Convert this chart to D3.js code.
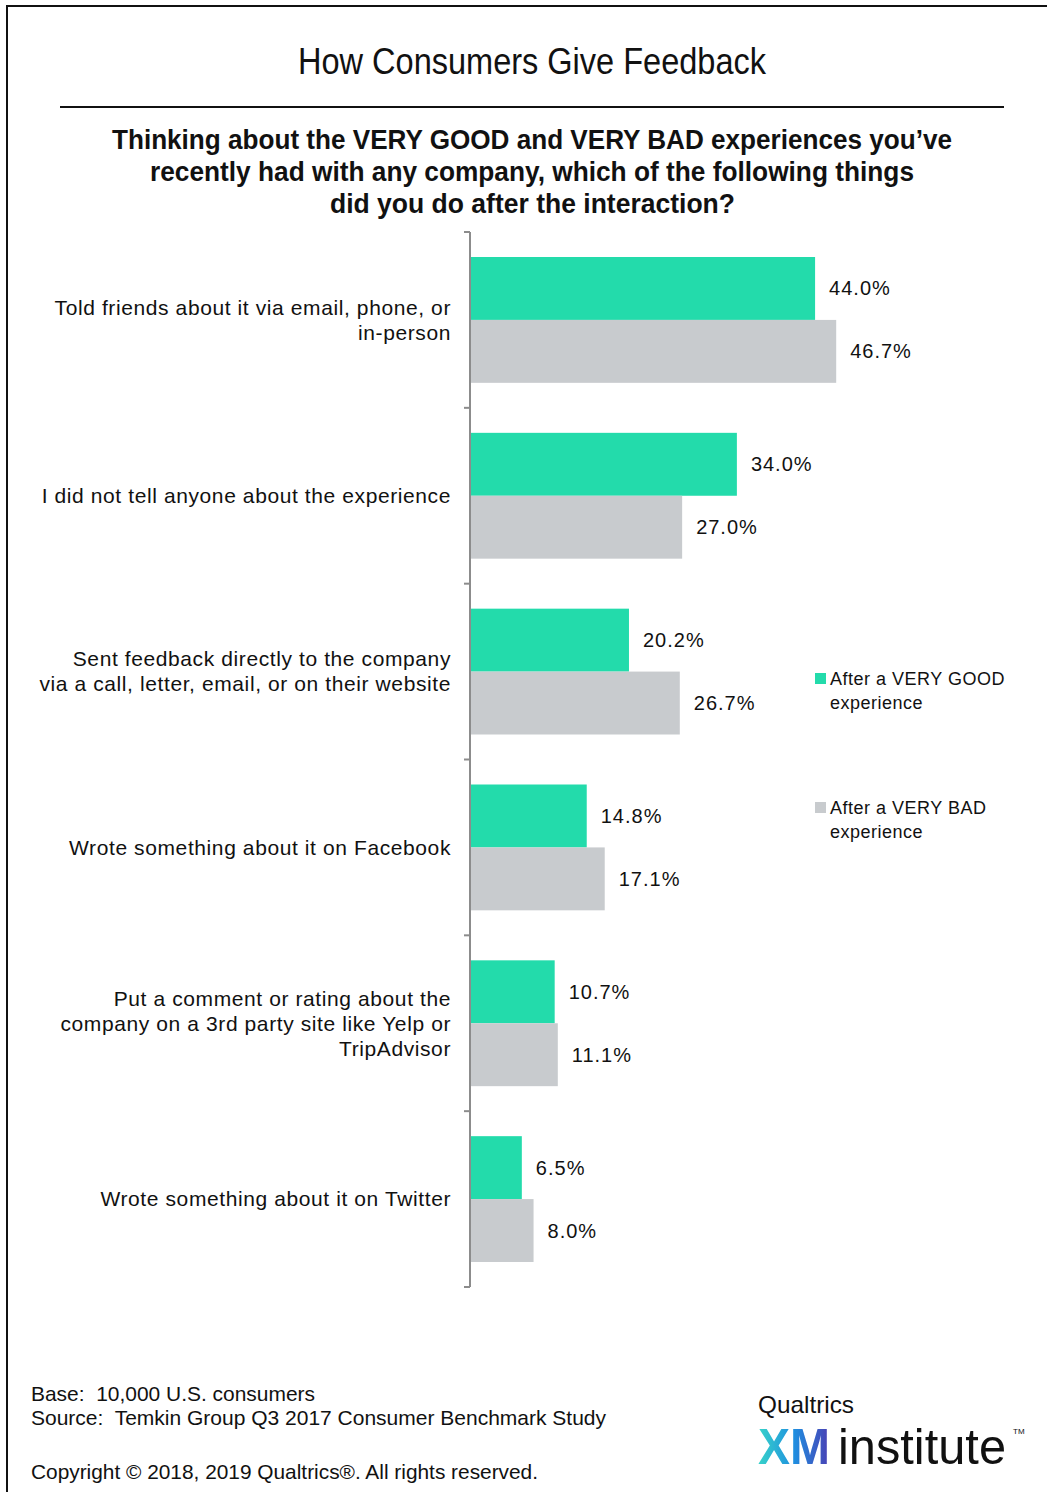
<!DOCTYPE html>
<html>
<head>
<meta charset="utf-8">
<script src="https://cdn.jsdelivr.net/npm/d3@7"></script>
<style>
  body { margin: 0; background: #fff; }
  svg { display: block; }
</style>
</head>
<body>
<div id="chart"></div>
<script>
// data
const categories = [
  "Told friends about it via email, phone, or in-person",
  "I did not tell anyone about the experience",
  "Sent feedback directly to the company via a call, letter, email, or on their website",
  "Wrote something about it on Facebook",
  "Put a comment or rating about the company on a 3rd party site like Yelp or TripAdvisor",
  "Wrote something about it on Twitter"
];
const categoryLines = [
  ["Told friends about it via email, phone, or", "in-person"],
  ["I did not tell anyone about the experience"],
  ["Sent feedback directly to the company", "via a call, letter, email, or on their website"],
  ["Wrote something about it on Facebook"],
  ["Put a comment or rating about the", "company on a 3rd party site like Yelp or", "TripAdvisor"],
  ["Wrote something about it on Twitter"]
];
const seriesNames = ["After a VERY GOOD experience", "After a VERY BAD experience"];
const legendLines = [["After a VERY GOOD", "experience"], ["After a VERY BAD", "experience"]];
const goodValues = [44.0, 34.0, 20.2, 14.8, 10.7, 6.5];
const badValues = [46.7, 27.0, 26.7, 17.1, 11.1, 8.0];
const colors = ["#23dbab", "#c8cbce"];

const width = 1047, height = 1492;
const labelFont = "'Liberation Sans', Arial, sans-serif";

const svg = d3.select("#chart").append("svg")
  .attr("width", width)
  .attr("height", height);

// condensed looking text: squeeze regular glyphs to the measured width
function narrowText(sel, t, len) {
  sel.text(t)
    .attr("textLength", len)
    .attr("lengthAdjust", "spacingAndGlyphs");
  return sel;
}

// frame
svg.append("path")
  .attr("d", `M7,${height} L7,6 L${width},6`)
  .attr("fill", "none")
  .attr("stroke", "#111")
  .attr("stroke-width", 2);

// title
narrowText(svg.append("text")
  .attr("x", 298).attr("y", 74)
  .style("font-family", labelFont)
  .style("font-size", "36px")
  .attr("fill", "#111"), "How Consumers Give Feedback", 468);

svg.append("line")
  .attr("x1", 60).attr("x2", 1004)
  .attr("y1", 107).attr("y2", 107)
  .attr("stroke", "#111").attr("stroke-width", 2);

const subtitle = [
  "Thinking about the VERY GOOD and VERY BAD experiences you\u2019ve",
  "recently had with any company, which of the following things",
  "did you do after the interaction?"
];
const subtitleX = [112, 150, 330];
const subtitleW = [840, 764, 405];
svg.append("g").selectAll("text")
  .data(subtitle)
  .join("text")
  .attr("x", (d, i) => subtitleX[i])
  .attr("y", (d, i) => 149 + i * 32)
  .style("font-family", labelFont)
  .style("font-size", "28px")
  .style("font-weight", "bold")
  .attr("fill", "#111")
  .each(function (d, i) { narrowText(d3.select(this), d, subtitleW[i]); });

// scales
const y0 = d3.scaleBand()
  .domain(categories)
  .range([232, 1287])
  .padding(0);

const y1 = d3.scaleBand()
  .domain(seriesNames)
  .range([25, y0.bandwidth() - 25]);

const x = d3.scaleLinear()
  .domain([0, 50])
  .range([471, 862]);

// bars
const groups = svg.append("g").selectAll("g")
  .data(categories)
  .join("g")
  .attr("transform", d => `translate(0,${y0(d)})`);

const pairs = (d, i) => [goodValues[i], badValues[i]].map((v, j) => ({ key: seriesNames[j], value: v, j }));

groups.selectAll("rect")
  .data(pairs)
  .join("rect")
  .attr("x", x(0))
  .attr("y", d => y1(d.key))
  .attr("width", d => x(d.value) - x(0))
  .attr("height", y1.bandwidth())
  .attr("fill", d => colors[d.j]);

groups.selectAll("text.val")
  .data(pairs)
  .join("text")
  .attr("class", "val")
  .attr("x", d => x(d.value) + 14)
  .attr("y", d => y1(d.key) + y1.bandwidth() / 2)
  .attr("dy", "0.35em")
  .style("font-family", labelFont)
  .style("font-size", "20px")
  .style("letter-spacing", "1px")
  .attr("fill", "#111")
  .text(d => d.value.toFixed(1) + "%");

// axis
const axis = svg.append("g")
  .attr("transform", `translate(${x(0) - 1},0)`);
axis.append("line")
  .attr("x1", 0).attr("x2", 0)
  .attr("y1", y0.range()[0]).attr("y2", y0.range()[1])
  .attr("stroke", "#8c8c8c").attr("stroke-width", 2);
const tickYs = categories.map(c => y0(c)).concat([y0.range()[1]]);
axis.selectAll("line.tick")
  .data(tickYs)
  .join("line")
  .attr("class", "tick")
  .attr("x1", -6).attr("x2", 0)
  .attr("y1", d => d).attr("y2", d => d)
  .attr("stroke", "#8c8c8c").attr("stroke-width", 2);

// category labels
const lineH = 25;
svg.append("g").selectAll("text")
  .data(categories)
  .join("text")
  .attr("text-anchor", "end")
  .style("font-family", labelFont)
  .style("font-size", "21px")
  .style("letter-spacing", "0.6px")
  .attr("fill", "#111")
  .each(function (d, i) {
    const lines = categoryLines[i];
    const cy = y0(d) + y0.bandwidth() / 2;
    const start = cy - (lines.length - 1) * lineH / 2;
    d3.select(this).selectAll("tspan")
      .data(lines)
      .join("tspan")
      .attr("x", 451)
      .attr("y", (l, k) => start + k * lineH)
      .attr("dy", "0.35em")
      .text(l => l);
  });

// legend
const legend = svg.append("g").selectAll("g")
  .data(seriesNames)
  .join("g")
  .attr("transform", (d, i) => `translate(815,${673 + i * 129})`);
legend.append("rect")
  .attr("width", 11).attr("height", 11)
  .attr("fill", (d, i) => colors[i]);
legend.append("text")
  .style("font-family", labelFont)
  .style("font-size", "18px")
  .style("letter-spacing", "0.5px")
  .attr("fill", "#111")
  .each(function (d, i) {
    d3.select(this).selectAll("tspan")
      .data(legendLines[i])
      .join("tspan")
      .attr("x", 15)
      .attr("y", (l, k) => 12 + k * 24)
      .text(l => l);
  });

// footer
const footer = [
  { t: "Base:  10,000 U.S. consumers", y: 1401, w: 284 },
  { t: "Source:  Temkin Group Q3 2017 Consumer Benchmark Study", y: 1425, w: 575 },
  { t: "Copyright \u00a9 2018, 2019 Qualtrics\u00ae. All rights reserved.", y: 1479, w: 507 }
];
svg.append("g").selectAll("text")
  .data(footer)
  .join("text")
  .attr("x", 31)
  .attr("y", d => d.y)
  .attr("xml:space", "preserve")
  .style("white-space", "pre")
  .style("font-family", labelFont)
  .style("font-size", "21px")
  .attr("fill", "#111")
  .each(function (d) { narrowText(d3.select(this), d.t, d.w); });

// logo
const defs = svg.append("defs");
const grad = defs.append("linearGradient")
  .attr("id", "xmgrad")
  .attr("x1", "0%").attr("x2", "100%")
  .attr("y1", "0%").attr("y2", "0%");
grad.append("stop").attr("offset", "0%").attr("stop-color", "#37d3c9");
grad.append("stop").attr("offset", "50%").attr("stop-color", "#1f8fe0");
grad.append("stop").attr("offset", "100%").attr("stop-color", "#4a3fb4");

narrowText(svg.append("text")
  .attr("x", 758).attr("y", 1413)
  .style("font-family", labelFont)
  .style("font-size", "24px")
  .attr("fill", "#111"), "Qualtrics", 96);
narrowText(svg.append("text")
  .attr("x", 758).attr("y", 1464)
  .style("font-family", labelFont)
  .style("font-size", "50px")
  .style("font-weight", "bold")
  .attr("fill", "url(#xmgrad)"), "XM", 72);
narrowText(svg.append("text")
  .attr("x", 838).attr("y", 1464)
  .style("font-family", labelFont)
  .style("font-size", "50px")
  .attr("fill", "#111"), "institute", 168);
svg.append("text")
  .attr("x", 1013).attr("y", 1434)
  .style("font-family", labelFont)
  .style("font-size", "8px")
  .attr("fill", "#111")
  .text("TM");
</script>
</body>
</html>
